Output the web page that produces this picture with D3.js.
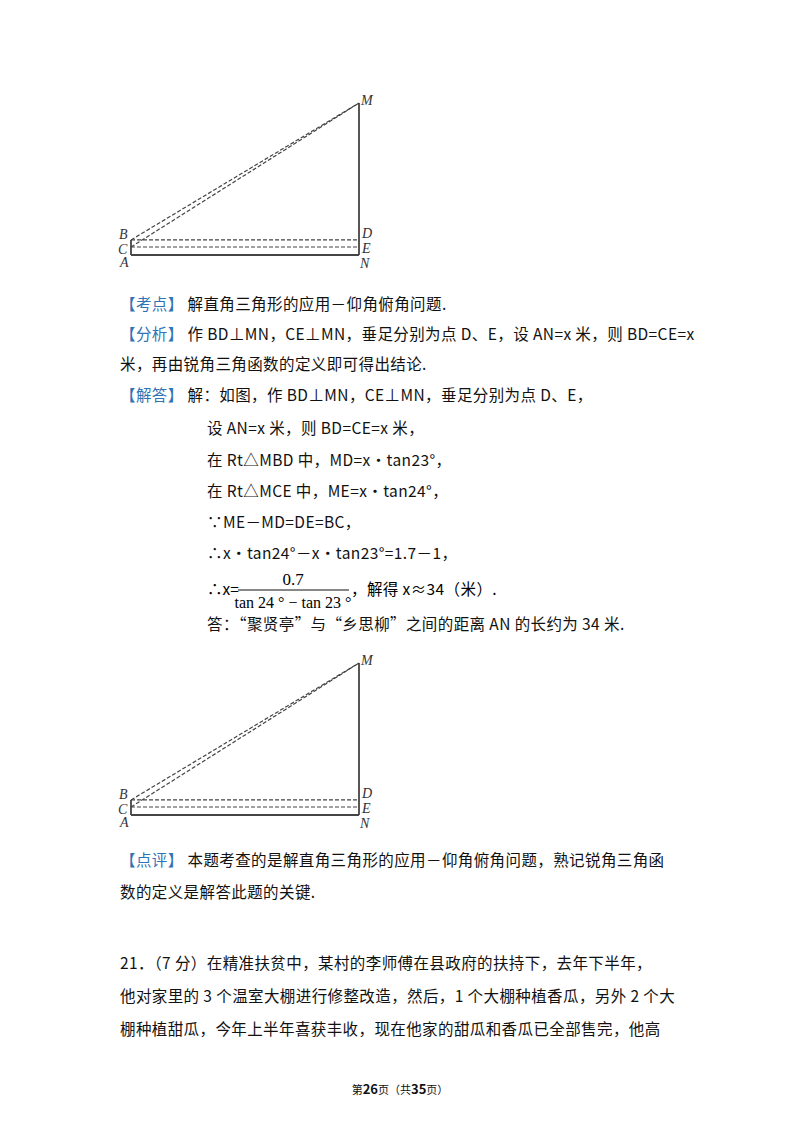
<!DOCTYPE html>
<html><head><meta charset="utf-8">
<script src="https://cdn.jsdelivr.net/npm/d3@7"></script>
<style>body{margin:0;background:#fff}</style>
</head><body><div id="page"></div>
<script>
const W = 800, H = 1132;
// figure points in figure units (A = origin)
const ptNames = ['A', 'B', 'C', 'D', 'E', 'M', 'N'];
const ptX = [0, 0, 0, 100, 100, 100, 100];
const ptY = [0, 6.6, 3.5, 6.6, 3.5, 66.7, 0];
const solidSegs = [['A', 'N'], ['N', 'M'], ['A', 'B']];
const dashSegs = [['B', 'M'], ['C', 'M'], ['B', 'D'], ['C', 'E']];
const figTops = [103, 663];

const blue = '#2e74b5';
const textLines = [
  {x: 120, y: 310, tag: '【考点】', t: '解直角三角形的应用－仰角俯角问题.'},
  {x: 120, y: 340, tag: '【分析】', t: '作 BD⊥MN，CE⊥MN，垂足分别为点 D、E，设 AN=x 米，则 BD=CE=x'},
  {x: 120, y: 370, t: '米，再由锐角三角函数的定义即可得出结论.'},
  {x: 120, y: 401, tag: '【解答】', t: '解：如图，作 BD⊥MN，CE⊥MN，垂足分别为点 D、E，'},
  {x: 207, y: 434, t: '设 AN=x 米，则 BD=CE=x 米，'},
  {x: 207, y: 466, t: '在 Rt△MBD 中，MD=x•tan23°，'},
  {x: 207, y: 497, t: '在 Rt△MCE 中，ME=x•tan24°，'},
  {x: 207, y: 528, t: '∵ME－MD=DE=BC，'},
  {x: 207, y: 559, t: '∴x•tan24°－x•tan23°=1.7－1，'},
  {x: 207, y: 630, t: '答：“聚贤亭”与“乡思柳”之间的距离 AN 的长约为 34 米.'},
  {x: 120, y: 866, tag: '【点评】', t: '本题考查的是解直角三角形的应用－仰角俯角问题，熟记锐角三角函'},
  {x: 120, y: 898, t: '数的定义是解答此题的关键.'},
  {x: 120, y: 969, t: '21．（7 分）在精准扶贫中，某村的李师傅在县政府的扶持下，去年下半年，'},
  {x: 120, y: 1002, t: '他对家里的 3 个温室大棚进行修整改造，然后，1 个大棚种植香瓜，另外 2 个大'},
  {x: 120, y: 1035, t: '棚种植甜瓜，今年上半年喜获丰收，现在他家的甜瓜和香瓜已全部售完，他高'}
];

const svg = d3.select('#page').append('svg').attr('width', W).attr('height', H);
const font = '"Noto Sans CJK SC", "Noto Sans", sans-serif';

const xScale = d3.scaleLinear().domain([0, 100]).range([131, 359]);

figTops.forEach(top => {
  const yScale = d3.scaleLinear().domain([0, 66.7]).range([top + 152, top]);
  const P = {};
  ptNames.forEach((n, i) => P[n] = [xScale(ptX[i]), yScale(ptY[i])]);
  const g = svg.append('g');
  const seg = (s, dash) => g.append('line')
    .attr('x1', P[s[0]][0]).attr('y1', P[s[0]][1])
    .attr('x2', P[s[1]][0]).attr('y2', P[s[1]][1])
    .attr('stroke', '#444').attr('stroke-width', dash ? 1.2 : 1.8)
    .attr('stroke-dasharray', dash ? '4,2' : null);
  solidSegs.forEach(s => seg(s, false));
  dashSegs.forEach(s => seg(s, true));
  const lab = {A: [-11, 12], B: [-12, -1], C: [-13, 7], D: [3, -2], E: [3, 6], M: [2, 2], N: [1, 13]};
  ptNames.forEach(n => g.append('text')
    .attr('x', P[n][0] + lab[n][0]).attr('y', P[n][1] + lab[n][1])
    .attr('font-family', '"Liberation Serif", serif').attr('font-style', 'italic')
    .attr('font-size', 14).attr('fill', '#333').text(n));
});

textLines.forEach(l => {
  const t = svg.append('text').attr('x', l.x).attr('y', l.y)
    .attr('font-family', font).attr('font-size', 15.5).attr('letter-spacing', 0.4).attr('fill', '#111');
  if (l.tag) t.append('tspan').attr('fill', blue).text(l.tag + ' ');
  t.append('tspan').text(l.t);
});

// fraction line
const fy = 595;
svg.append('text').attr('x', 207).attr('y', fy).attr('font-family', font).attr('font-size', 15.5).text('∴x=');
svg.append('line').attr('x1', 238).attr('x2', 349).attr('y1', fy - 5).attr('y2', fy - 5).attr('stroke', '#111');
svg.append('text').attr('x', 293).attr('y', fy - 10).attr('text-anchor', 'middle')
  .attr('font-family', '"Liberation Serif", serif').attr('font-size', 17).text('0.7');
svg.append('text').attr('x', 293).attr('y', fy + 13).attr('text-anchor', 'middle')
  .attr('font-family', '"Liberation Serif", serif').attr('font-size', 16).text('tan 24 ° − tan 23 °');
svg.append('text').attr('x', 351).attr('y', fy).attr('font-family', font).attr('font-size', 15.5)
  .attr('letter-spacing', 0.4).text('，解得 x≈34（米）.');

// footer
const foot = svg.append('text').attr('x', 400).attr('y', 1094).attr('text-anchor', 'middle')
  .attr('font-family', font).attr('font-size', 11).attr('fill', '#111');
foot.append('tspan').text('第');
foot.append('tspan').attr('font-weight', 'bold').attr('font-size', 13).text('26');
foot.append('tspan').text('页（共');
foot.append('tspan').attr('font-weight', 'bold').attr('font-size', 13).text('35');
foot.append('tspan').text('页）');
</script></body></html>
